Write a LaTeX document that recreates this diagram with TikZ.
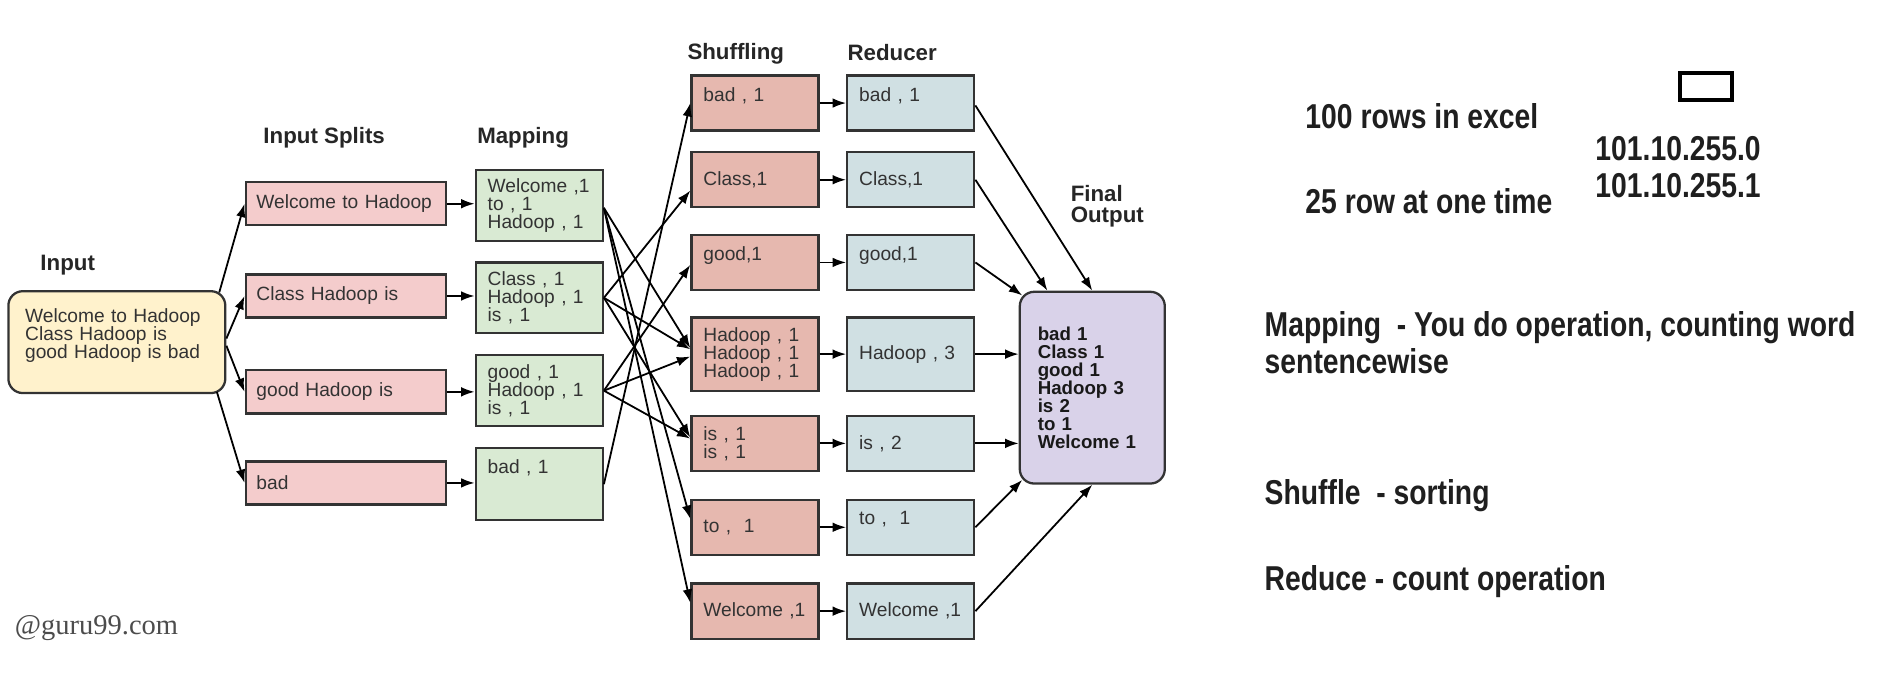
\documentclass[tikz,border=0pt]{standalone}
\usepackage{fontspec}
\setmainfont{Liberation Sans}
\newfontfamily\narrowfont[FakeStretch=0.82]{Liberation Sans}
\newfontfamily\serifont{Liberation Serif}
\usetikzlibrary{arrows.meta,calc}
\definecolor{yellowc}{HTML}{FFF2CC}
\definecolor{pinkc}{HTML}{F4CCCC}
\definecolor{greenc}{HTML}{D9EAD3}
\definecolor{salmonc}{HTML}{E6B8AF}
\definecolor{bluec}{HTML}{D0E0E3}
\definecolor{lavc}{HTML}{D9D2E9}
\begin{document}
\begin{tikzpicture}[x=0.5pt,y=-0.5pt,
  box/.style={draw=black!80, line width=0.95pt, align=left, inner ysep=0pt, font=\fontsize{8}{7.5}\selectfont, text=black!80},
  splitb/.style={box, fill=pinkc, minimum width=83.5pt, minimum height=18pt, inner xsep=4.5pt, text width=74.5pt},
  mapb/.style={box, fill=greenc, minimum width=53pt, minimum height=29.5pt, inner xsep=5pt, text width=43pt},
  shb/.style={box, fill=salmonc, minimum width=53pt, minimum height=23pt, inner xsep=5pt, text width=43pt},
  redb/.style={box, fill=bluec, minimum width=53pt, minimum height=23pt, inner xsep=5pt, text width=43pt},
  lab/.style={font=\bfseries\fontsize{9.3}{9}\selectfont, text=black!85, inner sep=0pt},
  note/.style={font=\narrowfont\bfseries\fontsize{14.4}{15.5}\selectfont, text=black!88, inner sep=0pt, anchor=west, align=left},
  arr/.style={-{Latex[length=5.6pt,width=4pt]}, line width=0.75pt, black}]

\useasboundingbox (0,0) rectangle (1568,583);

% input
\node[box, fill=yellowc, rounded corners=6pt, minimum width=90.5pt, minimum height=42.5pt, inner xsep=7pt, text width=76.5pt] (in) at (97.5,285.5) {Welcome to Hadoop\\Class Hadoop is\\good Hadoop is bad\\~};

% splits
\node[splitb] (s1) at (288.5,170) {Welcome to Hadoop};
\node[splitb] (s2) at (288.5,247) {Class Hadoop is};
\node[splitb] (s3) at (288.5,327) {good Hadoop is};
\node[splitb] (s4) at (288.5,403) {bad};

% mapping
\node[mapb] (m1) at (450,171.5) {Welcome ,1\\to , 1\\Hadoop , 1};
\node[mapb] (m2) at (450,248.5) {Class , 1\\Hadoop , 1\\is , 1};
\node[mapb] (m3) at (450,326) {good , 1\\Hadoop , 1\\is , 1};
\node[mapb, minimum height=30pt] (m4) at (450,404) {bad , 1\\~\\~};

% shuffling
\node[shb] (sh1) at (630,86) {bad , 1\\~};
\node[shb] (sh2) at (630,150) {Class,1};
\node[shb] (sh3) at (630,219) {good,1\\~};
\node[shb, minimum height=30.5pt] (sh4) at (630,295.5) {Hadoop , 1\\Hadoop , 1\\Hadoop , 1};
\node[shb] (sh5) at (630,370) {is , 1\\is , 1};
\node[shb] (sh6) at (630,440) {to ,\ \ 1};
\node[shb] (sh7) at (630,510) {Welcome ,1};

% reducer
\node[redb] (r1) at (760,86) {bad , 1\\~};
\node[redb] (r2) at (760,150) {Class,1};
\node[redb] (r3) at (760,219) {good,1\\~};
\node[redb, minimum height=30.5pt] (r4) at (760,295.5) {Hadoop , 3};
\node[redb] (r5) at (760,370) {is , 2};
\node[redb] (r6) at (760,440) {to ,\ \ 1\\~};
\node[redb] (r7) at (760,510) {Welcome ,1};

% final output
\node[box, fill=lavc, rounded corners=6pt, minimum width=60.5pt, minimum height=80pt, inner xsep=7.5pt, text width=45.5pt, font=\bfseries\fontsize{7.8}{7.5}\selectfont, text=black!90] (fo) at (911.5,323.5) {bad 1\\Class 1\\good 1\\Hadoop 3\\is 2\\to 1\\Welcome 1};

% labels
\node[lab] (lshuf) at (614,45) {Shuffling};
\node[lab] (lred) at (744.5,44) {Reducer};
\node[lab] (lsplit) at (270.5,115) {Input Splits};
\node[lab] (lmap) at (436.5,115) {Mapping};
\node[lab] (linput) at (56.5,221.5) {Input};
\node[lab, align=left] (lfinal) at (924,172) {Final\\Output};

% arrows input -> splits
\draw[arr] ($(in.north east)+(-6,2)$) -- (s1.west);
\draw[arr] ($(in.east)+(0,-3)$) -- (s2.west);
\draw[arr] ($(in.east)+(0,3)$) -- (s3.west);
\draw[arr] ($(in.south east)+(-8,-2)$) -- (s4.west);

% splits -> mapping
\draw[arr] (s1.east) -- (s1.east -| m1.west);
\draw[arr] (s2.east) -- (s2.east -| m2.west);
\draw[arr] (s3.east) -- (s3.east -| m3.west);
\draw[arr] (s4.east) -- (s4.east -| m4.west);

% mapping -> shuffling
\draw[arr] ($(m1.east)+(0,2)$) -- ($(sh4.west)+(0,-5)$);
\draw[arr] ($(m1.east)+(0,2)$) -- ($(sh6.west)+(0,-7)$);
\draw[arr] ($(m1.east)+(0,2)$) -- ($(sh7.west)+(0,-7)$);
\draw[arr] (m2.east) -- ($(sh2.west)+(0,9)$);
\draw[arr] (m2.east) -- ($(sh4.west)+(0,-4)$);
\draw[arr] (m2.east) -- ($(sh5.west)+(0,-5)$);
\draw[arr] (m3.east) -- ($(sh3.west)+(0,2)$);
\draw[arr] (m3.east) -- ($(sh4.west)+(0,2)$);
\draw[arr] (m3.east) -- ($(sh5.west)+(0,-4)$);
\draw[arr] (m4.east) -- (sh1.west);

% shuffling -> reducer
\foreach \i in {1,...,7} {\draw[arr] (sh\i.east) -- (r\i.west);}

% reducer -> final
\draw[arr] ($(r1.east)+(0,2)$) -- (fo.north);
\draw[arr] (r2.east) -- ($(fo.north west)+(24,0)$);
\draw[arr] (r3.east) -- ($(fo.north west)+(3,4)$);
\draw[arr] (r4.east) -- (r4.east -| fo.west);
\draw[arr] (r5.east) -- (r5.east -| fo.west);
\draw[arr] (r6.east) -- ($(fo.south west)+(3,-4)$);
\draw[arr] (r7.east) -- (fo.south);

% notes on the right
\node[note] (n1) at (1089,97) {100 rows in excel};
\node[note] (n2) at (1089,168) {25 row at one time};
\node[note] (ip) at (1331,139.5) {101.10.255.0\\101.10.255.1};
\node[draw, line width=1.8pt, minimum width=21.7pt, minimum height=11.2pt, inner sep=0pt] (sq) at (1423.5,72) {};
\node[note] (n3) at (1055,286) {Mapping\ \ - You do operation, counting word\\sentencewise};
\node[note] (n4) at (1055,413.5) {Shuffle\ \ - sorting};
\node[note] (n5) at (1055,485.5) {Reduce - count operation};

\node[font=\serifont\fontsize{11.9}{12}\selectfont, text=black!70, anchor=west, inner sep=0pt] (g99) at (12,524) {@guru99.com};
\end{tikzpicture}
\end{document}
